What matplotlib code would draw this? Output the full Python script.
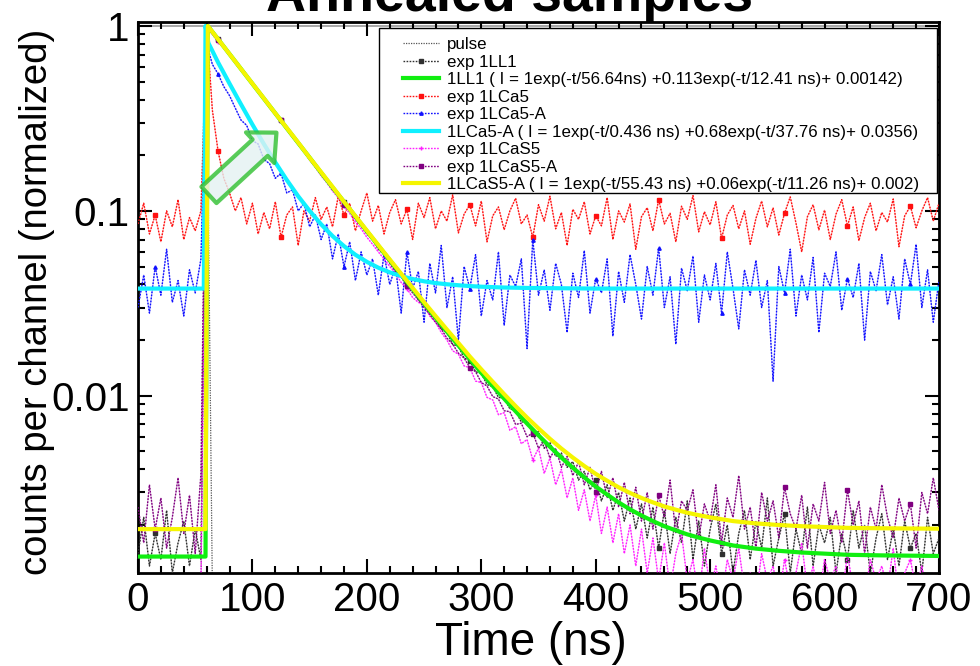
import numpy as np
import matplotlib
matplotlib.use("Agg")
import matplotlib.pyplot as plt
from matplotlib.patches import Rectangle
from matplotlib.ticker import FixedLocator, FixedFormatter, LogLocator, NullFormatter, MultipleLocator

plt.rcParams['font.family'] = ['Liberation Sans', 'DejaVu Sans']

# ---------------- data ----------------
STEP_NS = 5  # data sampled every 5 ns, starting at 0 ns

exp_1LCa5 = [
    0.085, 0.110, 0.075, 0.095, 0.068, 0.100, 0.082, 0.115, 0.070, 0.092,  # 0-45
    0.078, 0.100, 1.000, 0.350, 0.210, 0.150, 0.125, 0.100, 0.118, 0.085,  # 50-95
    0.110, 0.075, 0.098, 0.080, 0.112, 0.072, 0.095, 0.105, 0.065, 0.100,  # 100-145
    0.088, 0.118, 0.090, 0.105, 0.082, 0.120, 0.095, 0.110, 0.078, 0.100,  # 150-195
    0.125, 0.088, 0.107, 0.075, 0.098, 0.115, 0.085, 0.102, 0.070, 0.110,  # 200-245
    0.092, 0.118, 0.080, 0.100, 0.088, 0.122, 0.076, 0.096, 0.108, 0.083,  # 250-295
    0.113, 0.068, 0.094, 0.105, 0.079, 0.100, 0.117, 0.085, 0.095, 0.072,  # 300-345
    0.108, 0.088, 0.120, 0.080, 0.098, 0.065, 0.102, 0.090, 0.112, 0.075,  # 350-395
    0.094, 0.083, 0.118, 0.070, 0.100, 0.087, 0.109, 0.062, 0.093, 0.104,  # 400-445
    0.078, 0.115, 0.085, 0.097, 0.068, 0.106, 0.090, 0.121, 0.077, 0.099,  # 450-495
    0.084, 0.112, 0.071, 0.095, 0.107, 0.080, 0.100, 0.066, 0.091, 0.113,  # 500-545
    0.082, 0.104, 0.074, 0.097, 0.119, 0.086, 0.060, 0.093, 0.108, 0.079,  # 550-595
    0.101, 0.070, 0.096, 0.115, 0.083, 0.105, 0.069, 0.092, 0.110, 0.078,  # 600-645
    0.098, 0.087, 0.116, 0.064, 0.094, 0.106, 0.081, 0.100, 0.118, 0.088,  # 650-695
    0.110,
]

exp_1LCa5_A = [
    0.030, 0.045, 0.028, 0.050, 0.035, 0.062, 0.032, 0.042, 0.027, 0.048,  # 0-45
    0.036, 0.055, 0.800, 0.620, 0.550, 0.470, 0.420, 0.360, 0.310, 0.290,  # 50-95
    0.240, 0.230, 0.190, 0.180, 0.150, 0.160, 0.125, 0.130, 0.100, 0.110,  # 100-145
    0.082, 0.095, 0.070, 0.085, 0.055, 0.075, 0.050, 0.068, 0.042, 0.060,  # 150-195
    0.045, 0.055, 0.035, 0.058, 0.040, 0.050, 0.028, 0.060, 0.038, 0.047,  # 200-245
    0.025, 0.052, 0.036, 0.065, 0.030, 0.044, 0.020, 0.050, 0.038, 0.058,  # 250-295
    0.027, 0.042, 0.033, 0.060, 0.024, 0.045, 0.039, 0.055, 0.018, 0.070,  # 300-345
    0.035, 0.048, 0.029, 0.052, 0.040, 0.022, 0.046, 0.034, 0.061, 0.028,  # 350-395
    0.043, 0.036, 0.055, 0.021, 0.047, 0.032, 0.058, 0.040, 0.026, 0.050,  # 400-445
    0.035, 0.063, 0.030, 0.044, 0.019, 0.049, 0.037, 0.057, 0.025, 0.045,  # 450-495
    0.033, 0.052, 0.028, 0.060, 0.038, 0.023, 0.048, 0.035, 0.054, 0.030,  # 500-545
    0.042, 0.012, 0.050, 0.036, 0.062, 0.027, 0.045, 0.033, 0.056, 0.022,  # 550-595
    0.046, 0.039, 0.060, 0.029, 0.043, 0.034, 0.052, 0.020, 0.047, 0.037,  # 600-645
    0.058, 0.031, 0.044, 0.026, 0.055, 0.040, 0.066, 0.030, 0.048, 0.025,  # 650-695
    0.042,
]

exp_1LL1 = [
    0.0014, 0.0022, 0.0012, 0.0018, 0.0013, 0.0024, 0.0011, 0.0016, 0.0021, 0.0012,  # 0-45
    0.0019, 0.0013, 1.000, 0.930, 0.850, 0.770, 0.710, 0.640, 0.590, 0.530,  # 50-95
    0.490, 0.440, 0.410, 0.360, 0.335, 0.310, 0.280, 0.250, 0.235, 0.210,  # 100-145
    0.190, 0.180, 0.160, 0.145, 0.135, 0.120, 0.112, 0.100, 0.092, 0.086,  # 150-195
    0.077, 0.071, 0.064, 0.060, 0.053, 0.049, 0.045, 0.040, 0.038, 0.033,  # 200-245
    0.031, 0.028, 0.026, 0.023, 0.022, 0.019, 0.0185, 0.016, 0.0155, 0.0135,  # 250-295
    0.0132, 0.0115, 0.0112, 0.0098, 0.0097, 0.0085, 0.0083, 0.0072, 0.0073, 0.0062,  # 300-345
    0.0064, 0.0052, 0.0056, 0.0047, 0.0049, 0.0041, 0.0044, 0.0035, 0.0039, 0.0031,  # 350-395
    0.0035, 0.0027, 0.0033, 0.0024, 0.0030, 0.0021, 0.0028, 0.0019, 0.0026, 0.0017,  # 400-445
    0.0025, 0.0015, 0.0024, 0.0014, 0.0022, 0.0016, 0.0027, 0.0013, 0.0021, 0.0012,  # 450-495
    0.0019, 0.0026, 0.0014, 0.0020, 0.0011, 0.0018, 0.0024, 0.0013, 0.0021, 0.0015,  # 500-545
    0.0028, 0.0012, 0.0017, 0.0023, 0.0011, 0.0019, 0.0014, 0.0025, 0.0012, 0.0020,  # 550-595
    0.0016, 0.0022, 0.0011, 0.0018, 0.0013, 0.0024, 0.0015, 0.0020, 0.0011, 0.0017,  # 600-645
    0.0023, 0.0013, 0.0019, 0.0012, 0.0021, 0.0015, 0.0018, 0.0011, 0.0022, 0.0014,  # 650-695
    0.0017,
]

exp_1LCaS5_A = [
    0.0025, 0.0016, 0.0033, 0.0019, 0.0028, 0.0015, 0.0022, 0.0036, 0.0018, 0.0029,  # 0-45
    0.0014, 0.0038, 0.970, 0.920, 0.840, 0.780, 0.700, 0.650, 0.580, 0.540,  # 50-95
    0.480, 0.450, 0.400, 0.370, 0.330, 0.310, 0.275, 0.255, 0.230, 0.210,  # 100-145
    0.190, 0.175, 0.158, 0.147, 0.130, 0.122, 0.108, 0.101, 0.090, 0.083,  # 150-195
    0.075, 0.070, 0.062, 0.058, 0.052, 0.047, 0.044, 0.039, 0.036, 0.033,  # 200-245
    0.030, 0.0275, 0.025, 0.023, 0.0205, 0.019, 0.017, 0.016, 0.0142, 0.0135,  # 250-295
    0.0118, 0.0113, 0.0099, 0.0096, 0.0083, 0.0082, 0.0070, 0.0071, 0.0060, 0.0063,  # 300-345
    0.0052, 0.0057, 0.0046, 0.0052, 0.0041, 0.0047, 0.0037, 0.0044, 0.0033, 0.0041,  # 350-395
    0.0030, 0.0039, 0.0028, 0.0036, 0.0025, 0.0034, 0.0023, 0.0032, 0.0021, 0.0030,  # 400-445
    0.0019, 0.0029, 0.0022, 0.0035, 0.0018, 0.0027, 0.0024, 0.0031, 0.0017, 0.0026,  # 450-495
    0.0021, 0.0033, 0.0016, 0.0028, 0.0022, 0.0037, 0.0019, 0.0025, 0.0015, 0.0030,  # 500-545
    0.0021, 0.0027, 0.0017, 0.0032, 0.0023, 0.0019, 0.0029, 0.0015, 0.0026, 0.0021,  # 550-595
    0.0034, 0.0018, 0.0024, 0.0016, 0.0031, 0.0020, 0.0027, 0.0014, 0.0025, 0.0019,  # 600-645
    0.0033, 0.0022, 0.0017, 0.0028, 0.0021, 0.0026, 0.0015, 0.0030, 0.0023, 0.0036,  # 650-695
    0.0024,
]

exp_1LCaS5 = [
    0.0009, 0.0008, 0.0010, 0.0009, 0.0007, 0.0010, 0.0008, 0.0009, 0.0007, 0.0010,  # 0-45
    0.0008, 0.0009, 0.980, 0.900, 0.820, 0.760, 0.690, 0.630, 0.575, 0.530,  # 50-95
    0.480, 0.440, 0.400, 0.365, 0.330, 0.305, 0.275, 0.250, 0.228, 0.210,  # 100-145
    0.188, 0.172, 0.155, 0.142, 0.128, 0.118, 0.106, 0.097, 0.087, 0.080,  # 150-195
    0.072, 0.066, 0.060, 0.055, 0.050, 0.046, 0.041, 0.038, 0.034, 0.032,  # 200-245
    0.031, 0.027, 0.025, 0.022, 0.020, 0.0175, 0.0168, 0.0145, 0.0142, 0.0120,  # 250-295
    0.0118, 0.0098, 0.0095, 0.0079, 0.0081, 0.0065, 0.0068, 0.0055, 0.0058, 0.0045,  # 300-345
    0.0052, 0.0038, 0.0046, 0.0033, 0.0040, 0.0028, 0.0036, 0.0024, 0.0031, 0.0021,  # 350-395
    0.0029, 0.0018, 0.0025, 0.0016, 0.0023, 0.0014, 0.0020, 0.0012, 0.0019, 0.0011,  # 400-445
    0.0017, 0.0010, 0.0016, 0.0009, 0.0014, 0.0018, 0.0010, 0.0013, 0.0008, 0.0015,  # 450-495
    0.0009, 0.0012, 0.0008, 0.0013, 0.0010, 0.0015, 0.0009, 0.0011, 0.0008, 0.0014,  # 500-545
    0.0010, 0.0012, 0.0008, 0.0013, 0.0009, 0.0011, 0.0016, 0.0009, 0.0012, 0.0008,  # 550-595
    0.0013, 0.0010, 0.0012, 0.0008, 0.0014, 0.0009, 0.0011, 0.0008, 0.0013, 0.0010,  # 600-645
    0.0012, 0.0009, 0.0015, 0.0008, 0.0011, 0.0013, 0.0009, 0.0012, 0.0008, 0.0011,  # 650-695
    0.0010,
]

pulse_t = [0, 55, 58, 60, 62, 65, 700]
pulse_v = [0.0009, 0.0009, 0.05, 1.0, 0.05, 0.0009, 0.0009]

fit_t = [0, 59, 61, 70, 80, 90, 100, 110, 120, 130, 140, 150, 160, 170, 180, 190,
         200, 210, 220, 230, 240, 250, 260, 270, 280, 290, 300, 310, 320, 330, 340,
         350, 360, 370, 380, 390, 400, 410, 420, 430, 440, 450, 460, 470, 480, 490,
         500, 510, 520, 530, 540, 550, 560, 580, 600, 620, 650, 700]
fit_1LL1 = [0.00135, 0.00135, 1.0, 0.848, 0.705, 0.586, 0.487, 0.405, 0.337, 0.280,
            0.233, 0.194, 0.161, 0.134, 0.112, 0.0932, 0.0777, 0.0648, 0.0541, 0.0452,
            0.0378, 0.0316, 0.0265, 0.0222, 0.0187, 0.0158, 0.0133, 0.0113, 0.00964, 0.00824,
            0.00707, 0.00611, 0.00530, 0.00463, 0.00408, 0.00362, 0.00323, 0.00292, 0.00265,
            0.00243, 0.00225, 0.00210, 0.00197, 0.00187, 0.00178, 0.00171, 0.00165, 0.00160,
            0.00155, 0.00152, 0.00149, 0.00147, 0.00145, 0.00142, 0.00140, 0.00138, 0.00137,
            0.00136]
fit_1LCaS5_A = [0.0019, 0.0019, 1.0, 0.848, 0.705, 0.586, 0.488, 0.406, 0.337, 0.281,
                0.234, 0.194, 0.162, 0.135, 0.112, 0.0937, 0.0782, 0.0653, 0.0546, 0.0457,
                0.0383, 0.0321, 0.0270, 0.0228, 0.0193, 0.0163, 0.0139, 0.0119, 0.0102, 0.00879,
                0.00762, 0.00666, 0.00585, 0.00518, 0.00463, 0.00417, 0.00378, 0.00347, 0.00320,
                0.00298, 0.00280, 0.00265, 0.00252, 0.00242, 0.00233, 0.00226, 0.00220, 0.00215,
                0.00210, 0.00207, 0.00204, 0.00202, 0.00200, 0.00197, 0.00195, 0.00193, 0.00192,
                0.00191]

cyan_t = [0, 57.5, 59, 61.5, 70, 80, 90, 100, 110, 120, 130, 140, 150, 160, 170, 180,
          190, 200, 210, 220, 230, 240, 250, 260, 270, 280, 290, 300, 320, 340, 360, 400,
          500, 700]
fit_1LCa5_A = [0.038, 0.038, 1.0, 0.81, 0.635, 0.488, 0.377, 0.293, 0.230, 0.183,
               0.147, 0.120, 0.100, 0.0846, 0.0731, 0.0645, 0.0579, 0.0530, 0.0493, 0.0465,
               0.0444, 0.0428, 0.0416, 0.0407, 0.0401, 0.0396, 0.0392, 0.0389, 0.0385, 0.0383,
               0.0382, 0.0380, 0.0380, 0.0380]

labels = [
    'pulse',
    'exp 1LL1',
    '1LL1 ( I = 1exp(-t/56.64ns) +0.113exp(-t/12.41 ns)+ 0.00142)',
    'exp 1LCa5',
    'exp 1LCa5-A',
    '1LCa5-A ( I = 1exp(-t/0.436 ns) +0.68exp(-t/37.76 ns)+ 0.0356)',
    'exp 1LCaS5',
    'exp 1LCaS5-A',
    '1LCaS5-A ( I = 1exp(-t/55.43 ns) +0.06exp(-t/11.26 ns)+ 0.002)',
]

# ---------------- figure ----------------
W, H = 980, 666
AX_L, AX_R, AX_T, AX_B = 138, 939, 22, 573
fig = plt.figure(figsize=(W / 100, H / 100), dpi=100)
ax = fig.add_axes([AX_L / W, 1 - AX_B / H, (AX_R - AX_L) / W, (AX_B - AX_T) / H])
ax.set_yscale('log')


def ax_frac(px, py):
    return ((px - AX_L) / (AX_R - AX_L), (AX_B - py) / (AX_B - AX_T))


def tgrid(vals):
    return np.arange(len(vals)) * STEP_NS


def data_plot(vals, color, marker, label, ms=2.4):
    tt = tgrid(vals)
    ax.plot(tt, vals, color=color, lw=0.7, alpha=0.35, zorder=2)
    h, = ax.plot(tt, vals, color=color, lw=1.0, ls=(0, (1.2, 1.0)), marker=marker,
                 ms=ms, markevery=(3, 11), label=label, zorder=3)
    return h


h_pulse, = ax.plot(pulse_t, pulse_v, color='#555555', lw=0.9, ls=(0, (1, 1)),
                   label=labels[0], zorder=2)
h_ll1 = data_plot(exp_1LL1, '#303030', 's', labels[1])
h_ca5 = data_plot(exp_1LCa5, '#ff1010', 's', labels[3])
h_ca5a = data_plot(exp_1LCa5_A, '#1010ff', '^', labels[4])
h_cas5 = data_plot(exp_1LCaS5, '#ff20ff', '+', labels[6])
h_cas5a = data_plot(exp_1LCaS5_A, '#800080', 's', labels[7])

h_fit1, = ax.plot(fit_t, fit_1LL1, color='#10ee10', lw=3, label=labels[2], zorder=5)
h_fit2, = ax.plot(cyan_t, fit_1LCa5_A, color='#10f0ff', lw=3, label=labels[5], zorder=5)
h_fit3, = ax.plot(fit_t, fit_1LCaS5_A, color='#f5f500', lw=3, label=labels[8], zorder=6)

ax.axhline(1.0, color='#999999', lw=1.2, zorder=1)

# hollow arrow annotation
ax.annotate('', xy=(121, 0.265), xytext=(62, 0.122),
            arrowprops=dict(arrowstyle='simple,head_length=0.8,head_width=1.5,tail_width=0.8',
                            fc='#e4f2f2', ec='#30c030', lw=3, alpha=0.8,
                            shrinkA=0, shrinkB=0, mutation_scale=20),
            zorder=7)

ax.set_xlim(0, 700)
ax.set_ylim(0.0011, 1.051)

ax.xaxis.set_major_locator(MultipleLocator(100))
ax.xaxis.set_minor_locator(MultipleLocator(20))
ax.yaxis.set_major_locator(FixedLocator([0.01, 0.1, 1.0]))
ax.yaxis.set_major_formatter(FixedFormatter(['0.01', '0.1', '1']))
ax.yaxis.set_minor_locator(LogLocator(base=10, subs=np.arange(2, 10), numticks=20))
ax.yaxis.set_minor_formatter(NullFormatter())

ax.tick_params(which='both', direction='in', top=True, right=True, width=1.5,
               labelsize=29, colors='black')
ax.tick_params(which='major', length=10)
ax.tick_params(which='minor', length=5)
ax.tick_params(axis='x', pad=6)
ax.tick_params(axis='y', pad=6)
for sp in ax.spines.values():
    sp.set_linewidth(2)

# legend frame (drawn as a box) and legend entries inside it
fx0, fy0 = ax_frac(379, 193)
fx1, fy1 = ax_frac(937, 28)
ax.add_patch(Rectangle((fx0, fy0), fx1 - fx0, fy1 - fy0, transform=ax.transAxes,
                       facecolor='white', edgecolor='black', lw=1.0, zorder=9))
lx, ly = ax_frac(403, 37)
leg = ax.legend(handles=[h_pulse, h_ll1, h_fit1, h_ca5, h_ca5a, h_fit2, h_cas5, h_cas5a, h_fit3],
                loc='upper left', bbox_to_anchor=(lx, ly), borderaxespad=0,
                fontsize=12.2, frameon=False, borderpad=0, labelspacing=0.15,
                handlelength=2.1, handletextpad=0.5)
leg.set_zorder(10)

fig.text(37 / W, 1 - 302 / H, 'counts per channel (normalized)', rotation=90,
         ha='center', va='center', fontsize=27.5)
fig.text(531 / W, 1 - 655 / H, 'Time (ns)', ha='center', va='baseline', fontsize=33)
fig.text(510 / W, 1 - 11 / H, 'Annealed samples', ha='center', va='baseline',
         fontsize=40, fontweight='bold')

fig.savefig('out.png', dpi=100)
